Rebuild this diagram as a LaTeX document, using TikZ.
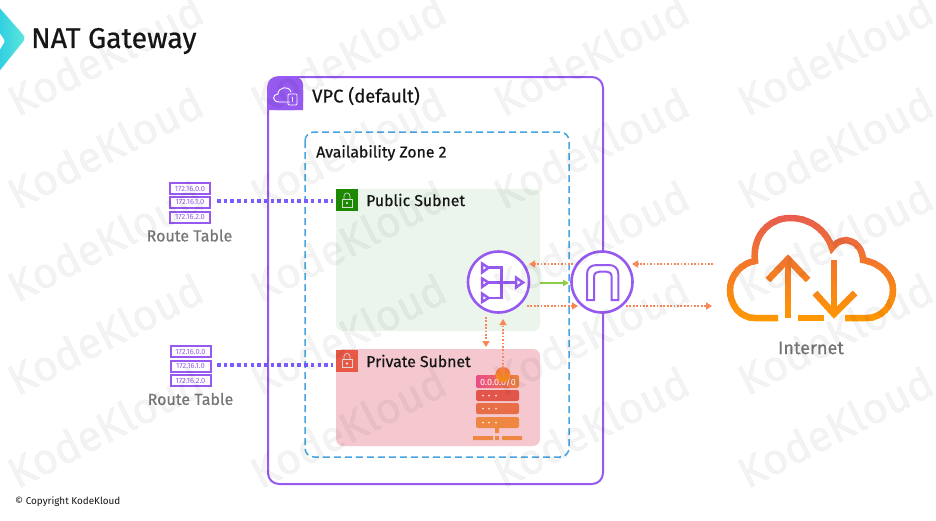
\documentclass[tikz,border=0pt]{standalone}
\usepackage{fontspec}
\setmainfont{Fira Sans}
\newfontfamily\heavyfont[FakeBold=0.6]{Fira Sans}
\newfontfamily\markfont[FakeBold=0.5]{Fira Sans}
\usetikzlibrary{arrows.meta}
\definecolor{vpcpurple}{RGB}{150,90,240}
\definecolor{azblue}{RGB}{70,165,225}
\definecolor{pubfill}{RGB}{235,245,236}
\definecolor{privfill}{RGB}{245,200,208}
\definecolor{pubgreen}{RGB}{29,137,0}
\definecolor{privred}{RGB}{232,88,70}
\definecolor{netorange}{RGB}{250,135,90}
\definecolor{natgreen}{RGB}{140,205,70}
\definecolor{routeblue}{RGB}{122,92,255}
\definecolor{labelgray}{RGB}{118,118,118}
\definecolor{darktext}{RGB}{22,22,22}
\definecolor{cloudtop}{RGB}{232,92,80}
\definecolor{cloudbot}{RGB}{255,153,0}
\definecolor{logoa}{RGB}{30,195,230}
\definecolor{logob}{RGB}{95,232,218}
\definecolor{srvpink}{RGB}{235,75,135}
\definecolor{srvorange}{RGB}{236,130,60}
\definecolor{srva}{RGB}{226,85,75}
\definecolor{srvb}{RGB}{232,110,72}
\definecolor{srvc}{RGB}{238,135,66}
\definecolor{dota}{RGB}{245,120,70}
\definecolor{dotb}{RGB}{255,150,20}
\newcommand{\fsz}[1]{\fontsize{#1}{#1}\selectfont}
\newcommand{\cloudpaths}{%
  \draw (778,318) -- (755,318) .. controls (740,318) and (730,305) .. (730,290)
    .. controls (730,275) and (742,263) .. (755,261)
    .. controls (752,235) and (770,218) .. (790,218)
    .. controls (810,218) and (826,230) .. (832,248)
    .. controls (838,240) and (846,239) .. (850,241)
    .. controls (858,243) and (863,252) .. (863,260)
    .. controls (880,263) and (893,275) .. (893,290)
    .. controls (893,305) and (882,318) .. (867,318) -- (845,318);
  \draw (798,318) -- (824,318);
  \draw (788,318) -- (788,260);
  \draw[line join=miter] (768,280) -- (788,259) -- (808,280);
  \draw (834,260) -- (834,313);
  \draw[line join=miter] (815,293) -- (834,314) -- (855,293);
}
\tikzset{
  x=1pt,y=-1pt,
  lbl/.style={inner sep=0pt,anchor=west,text=darktext,font=\heavyfont\fsz{15.8}},
  graylbl/.style={inner sep=0pt,text=labelgray,font=\heavyfont\fsz{16}},
  rtbox/.style={draw=vpcpurple,line width=2pt,fill=white,minimum width=40pt,minimum height=11pt,inner sep=0pt,text=vpcpurple,font=\fsz{7.5}},
  routeline/.style={routeblue,line width=4pt,dash pattern=on 3.6pt off 3.1pt},
  netline/.style={netorange,line width=1.7pt,dash pattern=on 1.7pt off 1.7pt,-{Triangle[length=6pt,width=7pt]}},
  iconline/.style={vpcpurple,line width=2.5pt},
  roundicon/.style={circle,draw=vpcpurple,line width=2.6pt,fill=white,minimum size=61pt,inner sep=0pt},
  tabbox/.style={minimum width=22pt,minimum height=22pt,inner sep=0pt},
  srvrow/.style={rounded corners=2pt},
  water/.style={text=black,opacity=0.048,rotate=27,font=\markfont\fsz{43},inner sep=0pt},
}
\begin{document}
\begin{tikzpicture}
\useasboundingbox (0,0) rectangle (936,520);
\fill[white] (0,0) rectangle (936,520);
% logo
\begin{scope}
\clip (0,0) rectangle (60,80);
\shade[left color=logoa,right color=logob,rounded corners=4pt]
  (-12,5) -- (-3,5) -- (26,38) -- (-3,74) -- (-12,74) -- cycle;
\fill[white,rounded corners=1pt] (-1,32) -- (5,41) -- (-1,51) -- cycle;
\end{scope}
\node[inner sep=0pt,anchor=west,text=darktext,font=\heavyfont\fsz{28.6}] (title) at (31,41) {NAT Gateway};
% VPC
\draw[vpcpurple,line width=2pt,rounded corners=11pt] (268,77) rectangle (603,484);
\fill[vpcpurple,rounded corners=8pt] (268,110) -- (268,77) -- (303,77) -- (303,110) -- cycle;
\fill[vpcpurple] (283,90) rectangle (303,110) (268,97) rectangle (290,110);
\draw[white,line width=0.9pt] (290,102) -- (279,102) .. controls (272,102) and (272,94) .. (278,94)
  .. controls (278,87) and (289,85) .. (291,92);
\draw[white,line width=0.9pt,rounded corners=1pt] (288,94) rectangle (297,105);
\draw[white,line width=0.7pt] (292.5,97) -- (292.5,102);
\node[lbl,font=\heavyfont\fsz{18.4}] (vpclabel) at (312,96) {VPC (default)};
% AZ
\draw[azblue,line width=1.5pt,dash pattern=on 7pt off 4pt,rounded corners=9pt] (305,132) rectangle (569,457);
\node[lbl] (azlabel) at (316,153) {Availability Zone 2};
% subnets
\fill[pubfill,rounded corners=7pt] (336,189) rectangle (540,331);
\fill[privfill,rounded corners=7pt] (336,349) rectangle (540,446);
\node[tabbox,fill=pubgreen] (pubtab) at (347,200) {};
\node[tabbox,fill=privred] (privtab) at (347,360.5) {};
\foreach \c in {pubtab,privtab}{
  \draw[white!85!black,line width=0.7pt] ([shift={(-5,-1)}]\c.center) rectangle ([shift={(5,7)}]\c.center);
  \draw[white!85!black,line width=0.7pt] ([shift={(-3,-1)}]\c.center) -- ([shift={(-3,-4)}]\c.center) .. controls ([shift={(-3,-8)}]\c.center) and ([shift={(3,-8)}]\c.center) .. ([shift={(3,-4)}]\c.center) -- ([shift={(3,-1)}]\c.center);
  \fill[white] ([shift={(0,3)}]\c.center) circle (1.1pt);
}
\node[lbl] (publabel) at (366,200) {Public Subnet};
\node[lbl] (privlabel) at (366,361) {Private Subnet};
% route tables
\node[rtbox] (rta) at (190,188.5) {172.16.0.0};
\node[rtbox] (rtb) at (190,202) {172.16.1.0};
\node[rtbox] (rtc) at (190,217) {172.16.2.0};
\node[graylbl] (rtalabel) at (189.5,235.5) {Route Table};
\node[rtbox] (rtd) at (190.5,351.5) {172.16.0.0};
\node[rtbox] (rte) at (190.5,366) {172.16.1.0};
\node[rtbox] (rtf) at (190.5,380.5) {172.16.2.0};
\node[graylbl] (rtblabel) at (190.5,399) {Route Table};
\coordinate (rtpubout) at (217,200.5);
\coordinate (pubin) at (333,200.5);
\coordinate (rtprivout) at (217,364.5);
\coordinate (privin) at (333,364.5);
\draw[routeline] (rtpubout) -- (pubin);
\draw[routeline] (rtprivout) -- (privin);
% NAT and IGW
\node[roundicon] (nat) at (498.5,282) {};
\node[roundicon] (igw) at (602,282) {};
\draw[iconline,line join=miter] (482,263.5) -- (488.5,267.7) -- (482,272.5) -- cycle;
\draw[iconline,line join=miter] (482,278.5) -- (488.5,282.5) -- (482,287) -- cycle;
\draw[iconline,line join=miter] (482,293.5) -- (488.5,298) -- (482,302) -- cycle;
\draw[iconline] (489,267.7) -- (501.7,267.7) -- (501.7,298) -- (489,298);
\draw[iconline] (489,282.5) -- (515,282.5);
\draw[iconline,line join=miter] (516,277.5) -- (523,282.5) -- (516,287.5) -- cycle;
\draw[iconline,line width=2pt,line join=miter] (587,300) -- (594,300) -- (594,277) .. controls (594,273) and (597,271.5) .. (600,271.5)
  -- (606,271.5) .. controls (609,271.5) and (611.7,273) .. (611.7,277) -- (611.7,300) -- (618.3,300)
  -- (618.3,274) .. controls (618.3,268) and (614,265) .. (609,265) -- (597,265) .. controls (591,265) and (587,268) .. (587,274) -- cycle;
% server
\shade[srvrow,left color=srvpink,right color=srvorange] (476,375) rectangle (519,388);
\node[inner sep=0pt,text=white,font=\fsz{9}] (cidr) at (498,382) {0.0.0.0/0};
\fill[srvrow,srva] (476,390) rectangle (519,401);
\fill[srvrow,srvb] (476,403) rectangle (519,414);
\fill[srvrow,srvc] (476,417) rectangle (519,428);
\foreach \y in {395.5,408.5,422.5}{\foreach \x in {483,489,496}{\fill[white,opacity=0.85] (\x,\y) circle (1pt);}}
\fill[srvc] (495,428) rectangle (499,433) (473,436) rectangle (493,440) (495,436) rectangle (499,440) (502,436) rectangle (522,440);
\shade[top color=dota,bottom color=dotb] (503,374.5) circle (7.5pt);
\coordinate (dotup) at (503,368);
% connectors
\coordinate (natT) at (573,264); \coordinate (natTend) at (529,264);
\coordinate (netT) at (713,264); \coordinate (netTend) at (632,264);
\coordinate (natB) at (527,306); \coordinate (natBend) at (578,306);
\coordinate (netB) at (626,306); \coordinate (netBend) at (712,306);
\coordinate (greenS) at (540,283); \coordinate (greenE) at (569,283);
\coordinate (downS) at (486,317); \coordinate (downE) at (486,347);
\coordinate (upE) at (503,319);
\draw[netline] (natT) -- (natTend);
\draw[netline] (netT) -- (netTend);
\draw[netline] (natB) -- (natBend);
\draw[netline] (netB) -- (netBend);
\draw[natgreen,line width=1.6pt,-{Triangle[length=6pt,width=6pt]}] (greenS) -- (greenE);
\draw[netline] (downS) -- (downE);
\draw[netline] (dotup) -- (upE);
% cloud
\begin{scope}[line width=6.5pt]
\foreach \i in {0,...,27}{
  \pgfmathsetmacro\p{100-100*\i/27}
  \begin{scope}
    \clip (720,{212+4*\i}) rectangle (905,{216.3+4*\i});
    \begin{scope}[color={cloudtop!\p!cloudbot}]
    \cloudpaths
    \end{scope}
  \end{scope}
}
\end{scope}
\node[graylbl,font=\heavyfont\fsz{18}] (netlabel) at (811,348) {Internet};
\node[inner sep=0pt,anchor=west,text=darktext,font=\fsz{9.9}] (copy) at (15,502) {© Copyright KodeKloud};
% watermark
\foreach \wy in {55,148,241,334,427}{
  \foreach \wx in {105,348,591,835}{
    \node[water] at (\wx,\wy) {KodeKloud};
  }
}
\end{tikzpicture}
\end{document}
